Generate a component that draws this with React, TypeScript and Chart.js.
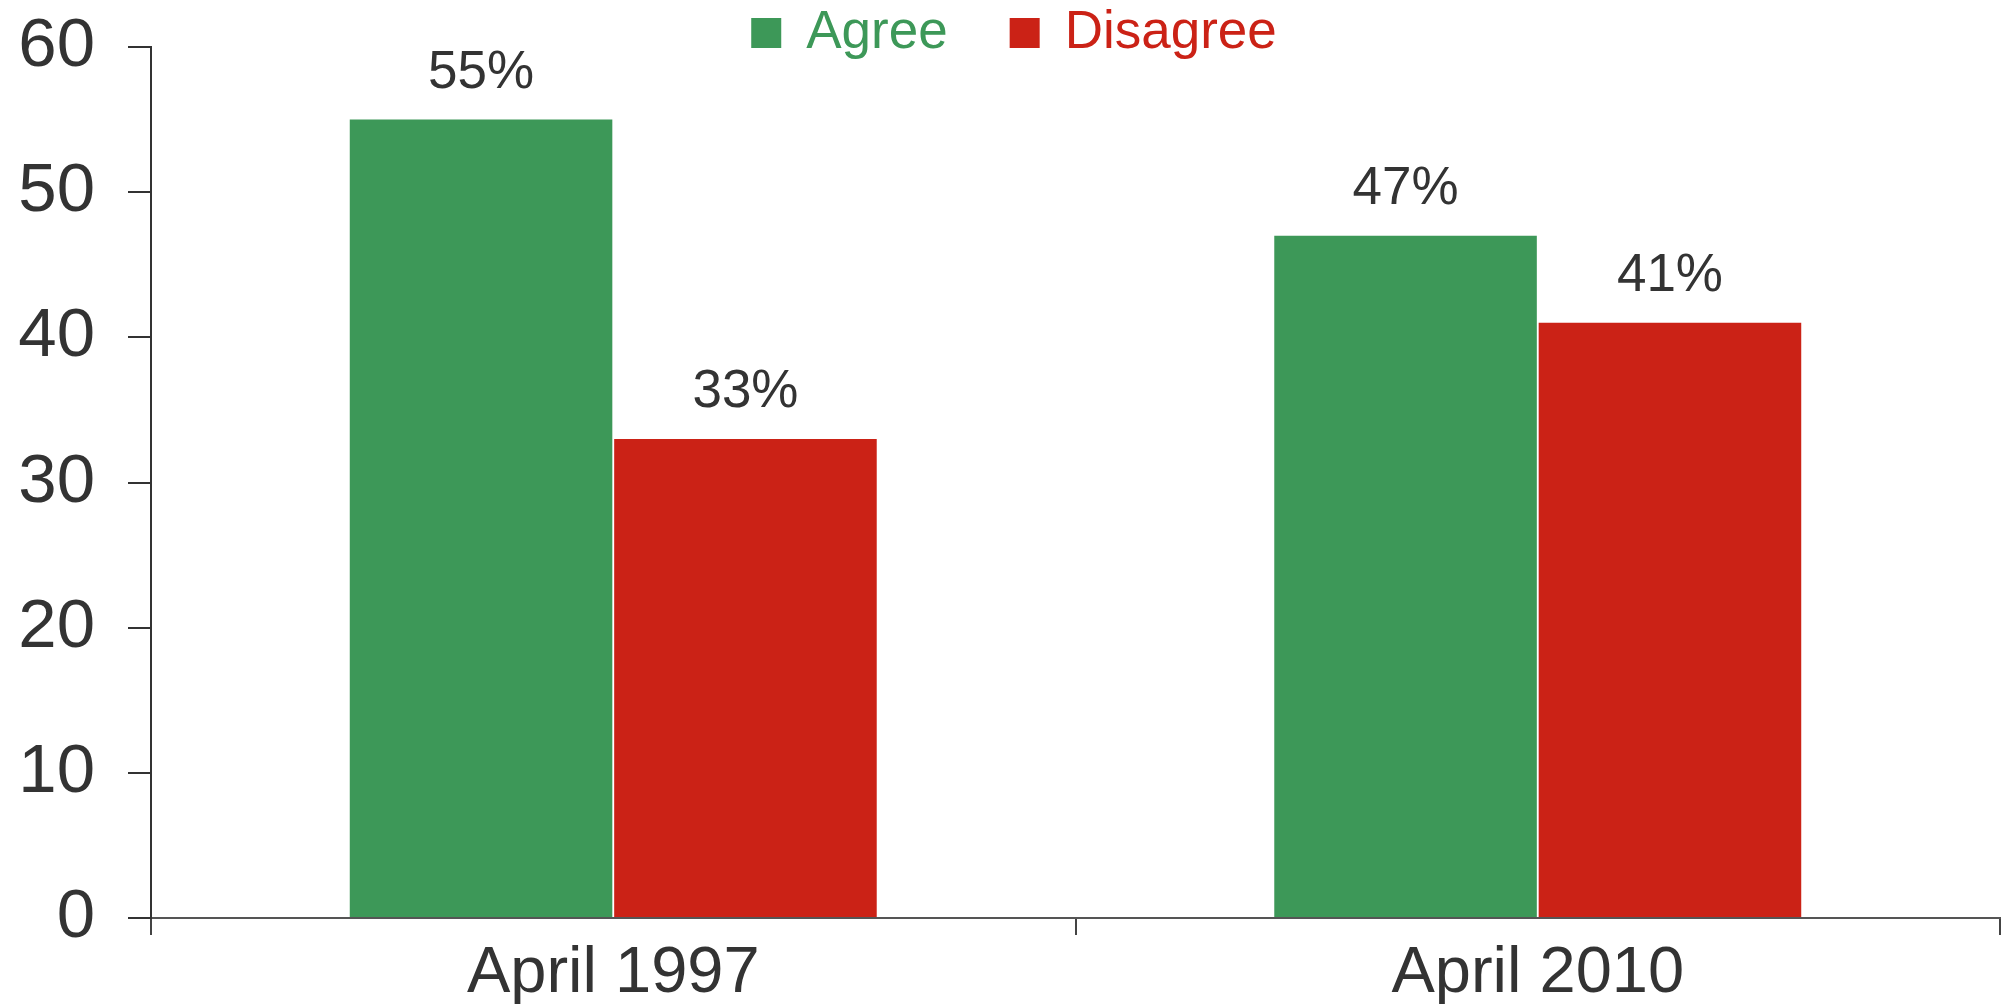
import React, { useEffect, useRef } from "react";
import { Chart, registerables } from "chart.js";

Chart.register(...registerables);

// ---- data ----
const categories: string[] = ["April 1997", "April 2010"];
const seriesNames: string[] = ["Agree", "Disagree"];
const agreeValues: number[] = [55, 47];
const disagreeValues: number[] = [33, 41];
const yMin = 0;
const yMax = 60;
const yStep = 10;

// ---- styles ----
const GREEN = "#3d9858";
const RED = "#cb2216";
const TEXT = "#333333";
const FONT = "'Liberation Sans', Arial, Helvetica, sans-serif";

const valueLabelPlugin = {
  id: "valueLabels",
  afterDatasetsDraw(chart: any) {
    const ctx = chart.ctx;
    ctx.save();
    ctx.font = `53px ${FONT}`;
    ctx.fillStyle = TEXT;
    ctx.textAlign = "center";
    ctx.textBaseline = "alphabetic";
    chart.data.datasets.forEach((ds: any, di: number) => {
      const meta = chart.getDatasetMeta(di);
      meta.data.forEach((el: any, i: number) => {
        const v = ds.data[i];
        ctx.fillText(`${v}%`, el.x, el.y - 32);
      });
    });
    ctx.restore();
  },
};

const topLegendPlugin = {
  id: "topLegend",
  afterDraw(chart: any) {
    const ctx = chart.ctx;
    ctx.save();
    const fontSize = 53;
    const box = 30;
    const gap = 25;
    const itemGap = 62;
    ctx.font = `${fontSize}px ${FONT}`;
    const items = chart.data.datasets.map((ds: any) => ({
      text: ds.label as string,
      color: ds.backgroundColor as string,
      w: ctx.measureText(ds.label).width,
    }));
    const total =
      items.reduce((s: number, it: any) => s + box + gap + it.w, 0) +
      itemGap * (items.length - 1);
    let x = chart.width / 2 + 10 - total / 2;
    const baseline = 48;
    items.forEach((it: any) => {
      ctx.fillStyle = it.color;
      ctx.fillRect(x, baseline - box, box, box);
      ctx.textAlign = "left";
      ctx.textBaseline = "alphabetic";
      ctx.fillText(it.text, x + box + gap, baseline);
      x += box + gap + it.w + itemGap;
    });
    ctx.restore();
  },
};

export default function App() {
  const canvasRef = useRef<HTMLCanvasElement | null>(null);

  useEffect(() => {
    if (!canvasRef.current) return;
    const chart = new Chart(canvasRef.current, {
      type: "bar",
      data: {
        labels: categories,
        datasets: [
          {
            label: seriesNames[0],
            data: agreeValues,
            backgroundColor: GREEN,
            categoryPercentage: 0.572,
            barPercentage: 0.993,
          },
          {
            label: seriesNames[1],
            data: disagreeValues,
            backgroundColor: RED,
            categoryPercentage: 0.572,
            barPercentage: 0.993,
          },
        ],
      },
      options: {
        responsive: false,
        maintainAspectRatio: false,
        animation: false,
        layout: { padding: { top: 47, right: 8, bottom: 0, left: 0 } },
        plugins: {
          legend: { display: false },
          tooltip: { enabled: false },
        },
        scales: {
          x: {
            type: "category",
            offset: true,
            grid: {
              display: true,
              offset: true,
              drawOnChartArea: false,
              drawTicks: true,
              tickLength: 17,
              color: "#444",
              lineWidth: 2,
            },
            border: { display: true, color: "#555", width: 2 },
            ticks: {
              color: TEXT,
              font: { family: FONT, size: 65 },
              padding: 0,
              maxRotation: 0,
            },
            afterFit(scale: any) {
              scale.height = 86;
              scale.paddingLeft = 0;
              scale.paddingRight = 0;
            },
          },
          y: {
            type: "linear",
            min: yMin,
            max: yMax,
            grid: {
              display: true,
              drawOnChartArea: false,
              drawTicks: true,
              tickLength: 23,
              color: "#333",
              lineWidth: 2,
            },
            border: { display: true, color: "#333", width: 2 },
            ticks: {
              stepSize: yStep,
              color: TEXT,
              font: { family: FONT, size: 69 },
              padding: 33,
            },
            afterFit(scale: any) {
              scale.width = 151;
              scale.paddingTop = 0;
              scale.paddingBottom = 0;
            },
          },
        },
      },
      plugins: [valueLabelPlugin, topLegendPlugin],
    });
    return () => chart.destroy();
  }, []);

  return (
    <div
      style={{
        position: "fixed",
        left: 0,
        top: 0,
        width: 2008,
        height: 1004,
        background: "#ffffff",
      }}
    >
      <canvas
        ref={canvasRef}
        width={2008}
        height={1004}
        style={{ display: "block", width: 2008, height: 1004 }}
      />
    </div>
  );
}
